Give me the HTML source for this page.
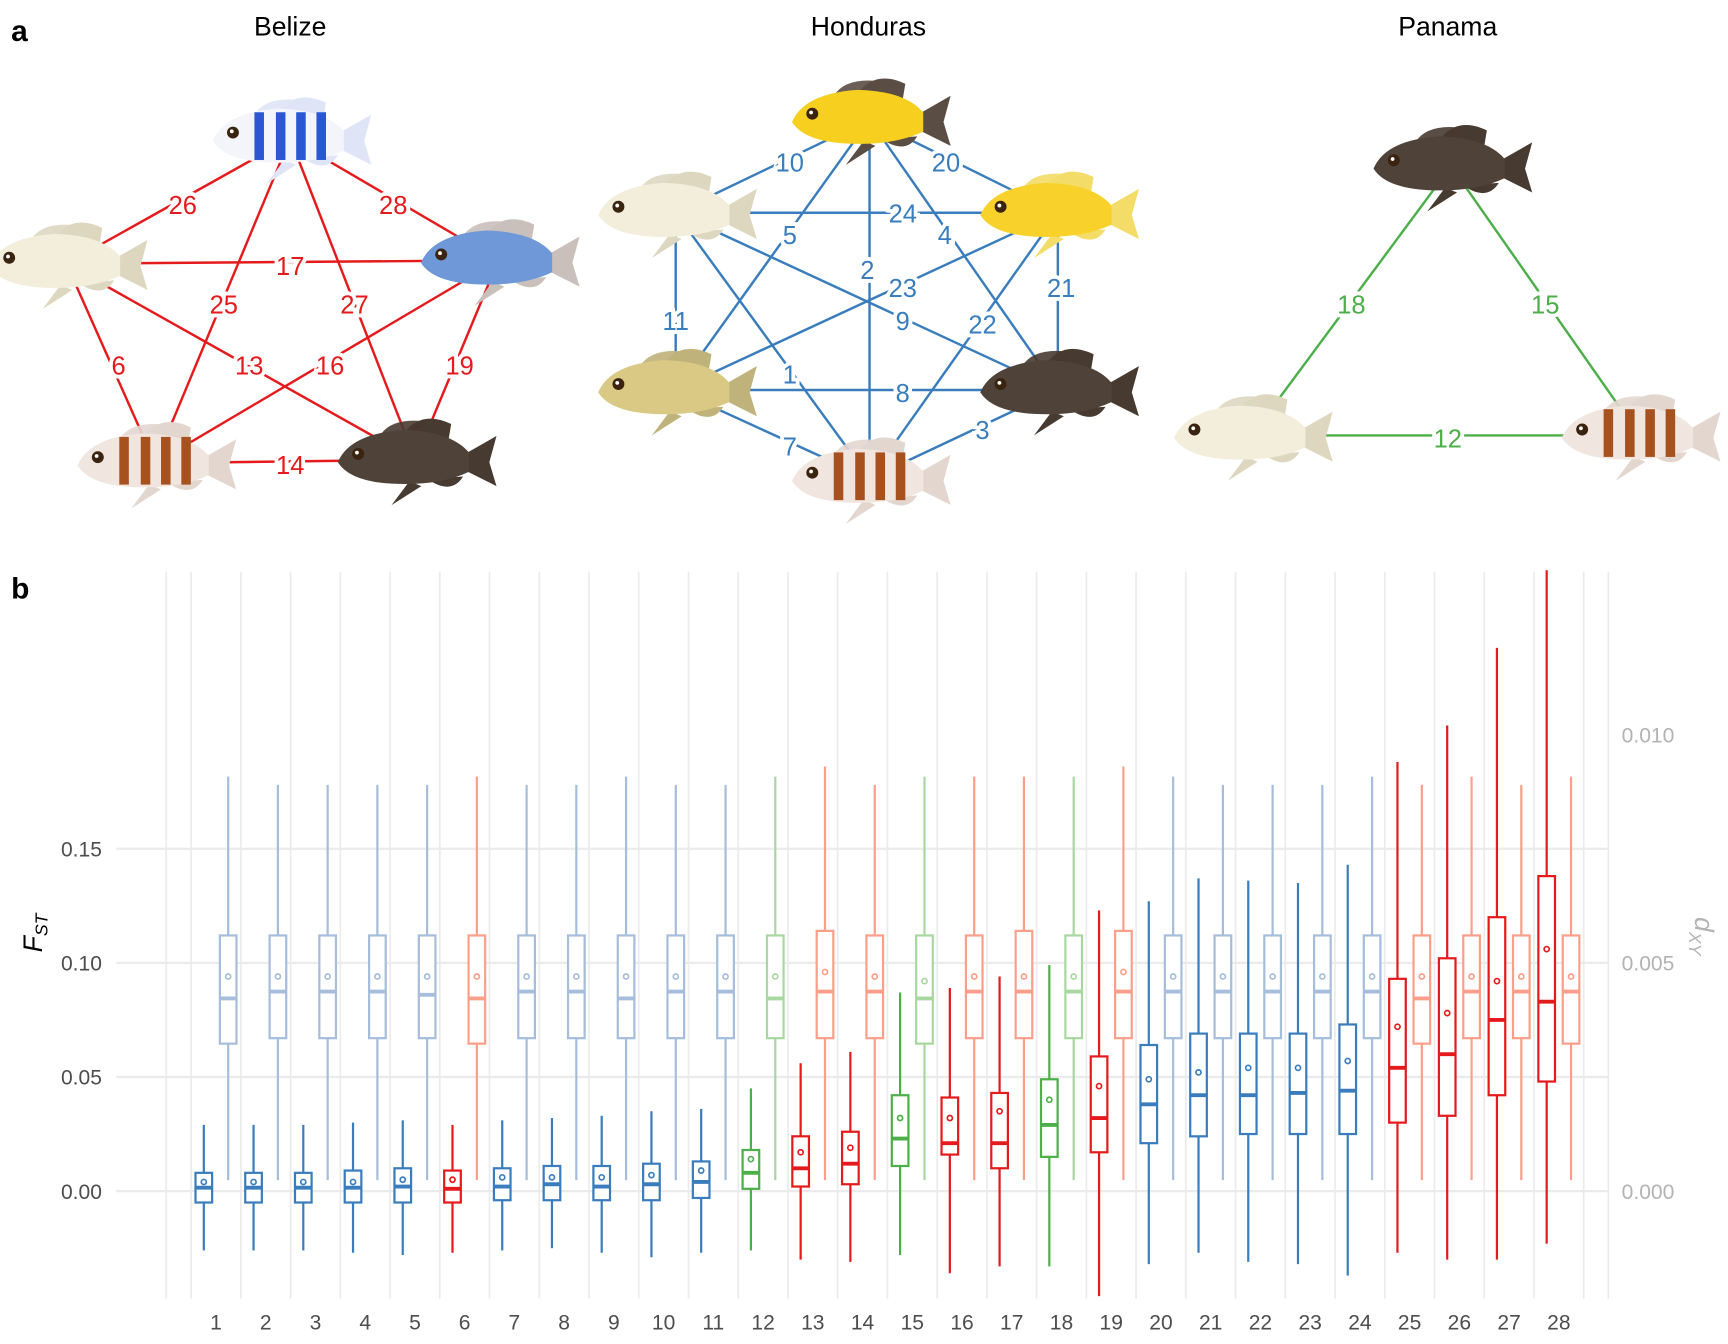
<!DOCTYPE html>
<html><head><meta charset="utf-8"><style>
html,body{margin:0;padding:0;background:#fff}
svg{display:block}
text{font-family:"Liberation Sans",Arial,sans-serif}
</style></head><body>
<svg id="fig" width="1728" height="1344" viewBox="0 0 1560 1213" preserveAspectRatio="none" xmlns="http://www.w3.org/2000/svg">
<rect width="1560" height="1213" fill="#fff"/>
<text x="10" y="37" font-size="27" font-weight="bold">a</text>
<text x="10" y="540" font-size="27" font-weight="bold">b</text>
<text x="262" y="32" font-size="24" text-anchor="middle">Belize</text>
<text x="784" y="32" font-size="24" text-anchor="middle">Honduras</text>
<text x="1307" y="32" font-size="24" text-anchor="middle">Panama</text>
<g id="net"></g>
<g id="chart"></g>
</svg>
<script>
// ---------- chart data ----------
const categories = [1,2,3,4,5,6,7,8,9,10,11,12,13,14,15,16,17,18,19,20,21,22,23,24,25,26,27,28];
const groups = ['b','b','b','b','b','r','b','b','b','b','b','g','r','r','g','r','r','g','r','b','b','b','b','b','r','r','r','r'];
const fstLow  = [-0.026,-0.026,-0.026,-0.027,-0.028,-0.027,-0.026,-0.025,-0.027,-0.029,-0.027,-0.026,-0.030,-0.031,-0.028,-0.036,-0.033,-0.033,-0.046,-0.032,-0.027,-0.031,-0.032,-0.037,-0.027,-0.030,-0.030,-0.023];
const fstQ1   = [-0.005,-0.005,-0.005,-0.005,-0.005,-0.005,-0.004,-0.004,-0.004,-0.004,-0.003,0.001,0.002,0.003,0.011,0.016,0.010,0.015,0.017,0.021,0.024,0.025,0.025,0.025,0.030,0.033,0.042,0.048];
const fstMed  = [0.0015,0.0015,0.0015,0.0015,0.002,0.001,0.002,0.003,0.002,0.003,0.004,0.008,0.010,0.012,0.023,0.021,0.021,0.029,0.032,0.038,0.042,0.042,0.043,0.044,0.054,0.060,0.075,0.083];
const fstQ3   = [0.008,0.008,0.008,0.009,0.010,0.009,0.010,0.011,0.011,0.012,0.013,0.018,0.024,0.026,0.042,0.041,0.043,0.049,0.059,0.064,0.069,0.069,0.069,0.073,0.093,0.102,0.120,0.138];
const fstHigh = [0.029,0.029,0.029,0.030,0.031,0.029,0.031,0.032,0.033,0.035,0.036,0.045,0.056,0.061,0.087,0.089,0.094,0.099,0.123,0.127,0.137,0.136,0.135,0.143,0.188,0.204,0.238,0.272];
const fstMean = [0.004,0.004,0.004,0.004,0.005,0.005,0.006,0.006,0.006,0.007,0.009,0.014,0.017,0.019,0.032,0.032,0.035,0.040,0.046,0.049,0.052,0.054,0.054,0.057,0.072,0.078,0.092,0.106];
const dxyLow  = [0.00024,0.00024,0.00024,0.00024,0.00024,0.00024,0.00024,0.00024,0.00024,0.00024,0.00024,0.00024,0.00024,0.00024,0.00024,0.00024,0.00024,0.00024,0.00024,0.00024,0.00024,0.00024,0.00024,0.00024,0.00024,0.00024,0.00024,0.00024];
const dxyQ1   = [0.00323,0.00335,0.00335,0.00335,0.00335,0.00323,0.00335,0.00335,0.00335,0.00335,0.00335,0.00335,0.00335,0.00335,0.00323,0.00335,0.00335,0.00335,0.00335,0.00335,0.00335,0.00335,0.00335,0.00335,0.00323,0.00335,0.00335,0.00323];
const dxyMed  = [0.00422,0.00437,0.00437,0.00437,0.00430,0.00422,0.00437,0.00437,0.00422,0.00437,0.00437,0.00422,0.00437,0.00437,0.00422,0.00437,0.00437,0.00437,0.00437,0.00437,0.00437,0.00437,0.00437,0.00437,0.00422,0.00437,0.00437,0.00437];
const dxyQ3   = [0.0056,0.0056,0.0056,0.0056,0.0056,0.0056,0.0056,0.0056,0.0056,0.0056,0.0056,0.0056,0.0057,0.0056,0.0056,0.0056,0.0057,0.0056,0.0057,0.0056,0.0056,0.0056,0.0056,0.0056,0.0056,0.0056,0.0056,0.0056];
const dxyHigh = [0.00908,0.00890,0.00890,0.00890,0.00890,0.00908,0.00890,0.00890,0.00908,0.00890,0.00890,0.00908,0.00930,0.00890,0.00908,0.00908,0.00908,0.00908,0.00930,0.00908,0.00890,0.00890,0.00890,0.00908,0.00890,0.00908,0.00890,0.00908];
const dxyMean = [0.0047,0.0047,0.0047,0.0047,0.0047,0.0047,0.0047,0.0047,0.0047,0.0047,0.0047,0.0047,0.0048,0.0047,0.0046,0.0047,0.0047,0.0047,0.0048,0.0047,0.0047,0.0047,0.0047,0.0047,0.0047,0.0047,0.0047,0.0047];
const fstTicks = [0.00,0.05,0.10,0.15];
const fstTickLabels = ['0.00','0.05','0.10','0.15'];
const dxyTicks = [0.000,0.005,0.010];
const dxyTickLabels = ['0.000','0.005','0.010'];

const NS='http://www.w3.org/2000/svg';
function mk(tag, attrs, parent){const e=document.createElementNS(NS,tag);for(const k in attrs)e.setAttribute(k,attrs[k]);parent.appendChild(e);return e;}
const dark={b:'#3a7dbd',r:'#e41a1c',g:'#4daf4a'};
const light={b:'#a6bddb',r:'#fc9f8a',g:'#a8d8a0'};
function xPos(i){return 195+i*44.9;}
function yF(v){return 1075 - v/0.05*103;}
function yD(v){return 1075 - v/0.005*206;}

const chart=document.getElementById('chart');
for(let i=0;i<fstTicks.length;i++){
  const y=yF(fstTicks[i]);
  const g=mk('line',{x1:105,x2:1452,y1:y,y2:y,stroke:'#ebebeb','stroke-width':2},chart);
  
  
  const t=mk('text',{x:92,y:y+7,'font-size':19,fill:'#4d4d4d','text-anchor':'end'},chart);
  t.textContent=fstTickLabels[i];
  
  
}
for(let i=0;i<dxyTicks.length;i++){
  const y=yD(dxyTicks[i]);
  const t=mk('text',{x:1464,y:y+7,'font-size':19,fill:'#b3b3b3'},chart);
  t.textContent=dxyTickLabels[i];
  
  
}
const vx=[150,xPos(-0.5)];
for(let i=0;i<categories.length;i++)vx.push(xPos(i+0.5));
vx.push(1452);
vx.forEach(x=>{
  const l=mk('line',{x1:x,x2:x,y1:516,y2:1172,stroke:'#ebebeb','stroke-width':1.5},chart);
  
  
});
function box(cx,lo,q1,md,q3,hi,mn,col,yf,name){
  const g=mk('g',{},chart);
  
  
  const w=7.5;
  mk('line',{x1:cx,x2:cx,y1:yf(hi),y2:yf(q3),stroke:col,'stroke-width':2},g);
  mk('line',{x1:cx,x2:cx,y1:yf(q1),y2:yf(lo),stroke:col,'stroke-width':2},g);
  mk('rect',{x:cx-w,y:yf(q3),width:2*w,height:yf(q1)-yf(q3),fill:'#fff',stroke:col,'stroke-width':2},g);
  mk('line',{x1:cx-w,x2:cx+w,y1:yf(md),y2:yf(md),stroke:col,'stroke-width':3.5},g);
  mk('circle',{cx:cx,cy:yf(mn),r:2.3,fill:'none',stroke:col,'stroke-width':1.5},g);
}
for(let i=0;i<categories.length;i++){
  const cx=xPos(i), gr=groups[i];
  box(cx-11,fstLow[i],fstQ1[i],fstMed[i],fstQ3[i],fstHigh[i],fstMean[i],dark[gr],yF,'fst-box-'+categories[i]);
  box(cx+11,dxyLow[i],dxyQ1[i],dxyMed[i],dxyQ3[i],dxyHigh[i],dxyMean[i],light[gr],yD,'dxy-box-'+categories[i]);
  const t=mk('text',{x:cx,y:1200,'font-size':19,fill:'#4d4d4d','text-anchor':'middle'},chart);
  t.textContent=categories[i];
  
  
}
const yt=mk('text',{transform:'translate(38,842) rotate(-90)','font-size':24,'font-style':'italic','text-anchor':'middle'},chart);
yt.innerHTML='F<tspan font-size="16" dy="5">ST</tspan>';


const yt2=mk('text',{transform:'translate(1530,845) rotate(90)','font-size':24,'font-style':'italic','text-anchor':'middle',fill:'#b3b3b3'},chart);
yt2.innerHTML='d<tspan font-size="16" dy="5">XY</tspan>';



// ---------- networks ----------
const net=document.getElementById('net');
function fish(cx,cy,w,body,fin,stripe,name){
  const g=mk('g',{transform:`translate(${cx},${cy}) scale(${w/130})`},net);
  
  
  mk('path',{d:'M-10,-22 Q5,-42 30,-30 L28,-18 Z',fill:fin},g);
  mk('path',{d:'M-30,-20 Q-20,-36 10,-32 L5,-20 Z',fill:fin,opacity:0.9},g);
  mk('path',{d:'M40,-4 L68,-20 L62,2 L68,22 L40,8 Z',fill:fin},g);
  mk('path',{d:'M-5,18 L-20,38 L5,22 Z',fill:fin},g);
  mk('path',{d:'M10,16 Q30,30 40,14 Z',fill:fin},g);
  mk('path',{d:'M-65,2 Q-55,-22 -10,-25 Q30,-24 45,-6 L45,10 Q20,22 -20,20 Q-55,18 -65,2 Z',fill:body},g);
  if(stripe){[-30,-12,5,22].forEach(x=>mk('rect',{x:x,y:-22,width:8,height:40,fill:stripe},g));}
  mk('circle',{cx:-48,cy:-5,r:5,fill:'#3a2410'},g);
  mk('circle',{cx:-49,cy:-6,r:1.6,fill:'#fff'},g);
}
function edges(nodes,list,col,parent){
  list.forEach(e=>{
    const a=nodes[e[0]],b=nodes[e[1]];
    const l=mk('line',{x1:a[0],y1:a[1],x2:b[0],y2:b[1],stroke:col,'stroke-width':2.2},parent);
    
    
  });
}
function labels(list,col){
  list.forEach(e=>{
    const t=mk('text',{x:e[1],y:e[2]+8,'font-size':23,fill:col,'text-anchor':'middle',stroke:'#fff','stroke-width':7,'paint-order':'stroke'},net);
    t.textContent=e[0];
    
    
  });
}
const R='#e41a1c',B='#3a7dbd',G='#4daf4a';
const bz={t:[262,125],l:[60,238],r:[450,235],bl:[140,418],br:[375,415]};
edges(bz,[['t','l',26],['t','r',28],['l','r',17],['t','bl',25],['t','br',27],['l','bl',6],['l','br',13],['r','bl',16],['r','br',19],['bl','br',14]],R,net);
const hn={t:[785,108],ul:[610,192],ur:[955,192],ll:[610,352],lr:[955,352],b:[785,432]};
edges(hn,[['t','ul',10],['t','ur',20],['ul','ur',24],['t','ll',5],['t','lr',4],['t','b',2],['ul','ll',11],['ur','lr',21],['ur','ll',23],['ul','lr',9],['ul','b',1],['ur','b',22],['ll','lr',8],['ll','b',7],['lr','b',3]],B,net);
const pn={t:[1310,150],l:[1130,393],r:[1480,393]};
edges(pn,[['t','l',18],['t','r',15],['l','r',12]],G,net);

fish(262,125,140,'#f4f4fb','#dfe4f6','#2c57d4','fish-belize-top');
fish(60,238,140,'#f2eedb','#ddd7c0',null,'fish-belize-left');
fish(450,235,140,'#6f98d8','#c9bfbb',null,'fish-belize-right');
fish(140,418,140,'#f1e5df','#e2d6cf','#a7521e','fish-belize-bottom-left');
fish(375,415,140,'#4f4239','#473a31',null,'fish-belize-bottom-right');
fish(785,108,140,'#f7cf1e','#5a4d44',null,'fish-honduras-top');
fish(610,192,140,'#f2eedb','#ddd7c0',null,'fish-honduras-upper-left');
fish(955,192,140,'#f8d22a','#f3dc67',null,'fish-honduras-upper-right');
fish(610,352,140,'#d9c985','#bfb27a',null,'fish-honduras-lower-left');
fish(955,352,140,'#4f4239','#473a31',null,'fish-honduras-lower-right');
fish(785,432,140,'#f1e5df','#e2d6cf','#a7521e','fish-honduras-bottom');
fish(1310,150,140,'#4f4239','#473a31',null,'fish-panama-top');
fish(1130,393,140,'#f2eedb','#ddd7c0',null,'fish-panama-left');
fish(1480,393,140,'#f1e5df','#e2d6cf','#a7521e','fish-panama-right');

labels([[26,165,185],[28,355,185],[17,262,240],[25,202,275],[27,320,275],[6,107,330],[13,225,330],[16,298,330],[19,415,330],[14,262,420]],R);
labels([[10,713,147],[20,854,147],[24,815,193],[5,713,212],[4,853,212],[2,783,244],[23,815,260],[11,610,290],[21,958,260],[9,815,290],[22,887,293],[1,713,338],[8,815,355],[7,713,403],[3,887,388]],B);
labels([[18,1220,275],[15,1395,275],[12,1307,396]],G);
</script>
</body></html>
